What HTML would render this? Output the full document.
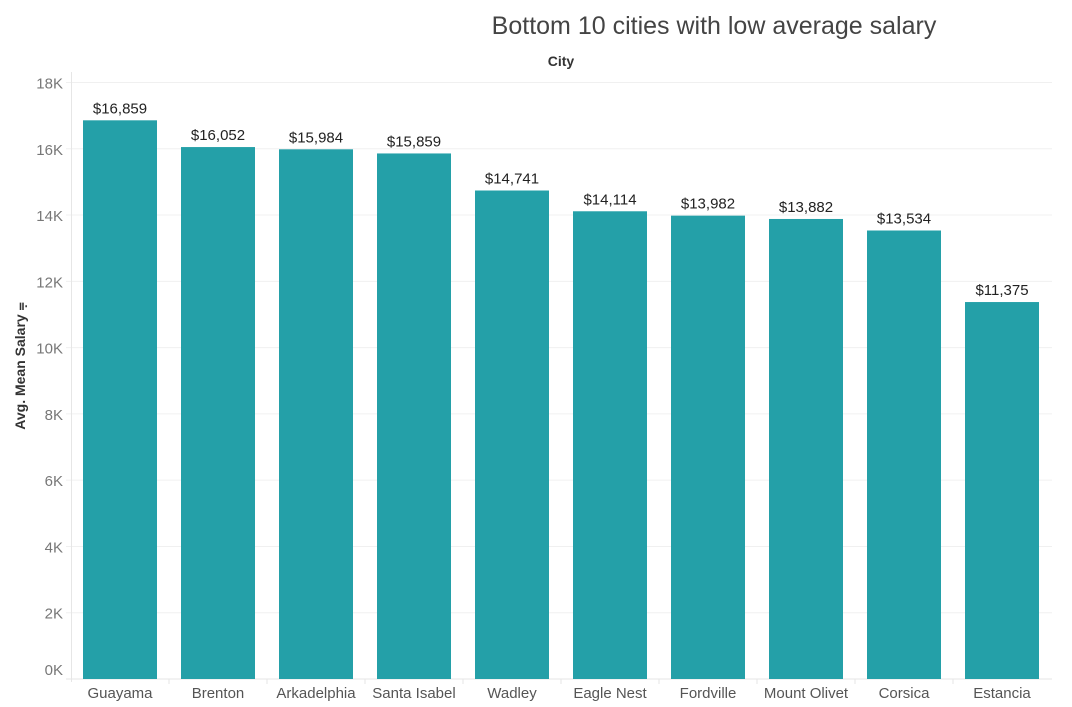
<!DOCTYPE html>
<html><head><meta charset="utf-8"><style>
body{margin:0;background:#fff;width:1072px;height:702px;overflow:hidden;font-family:"Liberation Sans",sans-serif}
</style></head><body>
<svg id="chart" width="1072" height="702" xmlns="http://www.w3.org/2000/svg">
<text x="714" y="34" text-anchor="middle" font-size="25" fill="#444" font-family="Liberation Sans, sans-serif">Bottom 10 cities with low average salary</text>
<text x="561" y="66" text-anchor="middle" font-size="14" font-weight="bold" fill="#333">City</text>
<text transform="translate(25,366) rotate(-90)" text-anchor="middle" font-size="14" font-weight="bold" fill="#333">Avg. Mean Salary ⩦</text>
<g id="grid"></g><g id="bars"></g>
</svg>
<script>
const cities=["Guayama","Brenton","Arkadelphia","Santa Isabel","Wadley","Eagle Nest","Fordville","Mount Olivet","Corsica","Estancia"];
const salaries=[16859,16052,15984,15859,14741,14114,13982,13882,13534,11375];
const ticks=[0,2000,4000,6000,8000,10000,12000,14000,16000,18000];
const tickLabels=["0K","2K","4K","6K","8K","10K","12K","14K","16K","18K"];
const NS="http://www.w3.org/2000/svg";
const x0=72,band=98,bw=74,yBase=679,yTop=82.5,vMax=18000;
const y=v=>yBase-(v/vMax)*(yBase-yTop);
const xb=i=>x0+band*i+(band-bw)/2-1;
const grid=document.getElementById('grid'),bars=document.getElementById('bars');
function mk(tag,attrs,parent){const e=document.createElementNS(NS,tag);for(const k in attrs)e.setAttribute(k,attrs[k]);parent.appendChild(e);return e;}
ticks.forEach((t,i)=>{
  const l=mk('line',{x1:66,x2:1052,y1:y(t),y2:y(t),stroke:t===0?'#e6e6e6':'#f0f0f0','stroke-width':1},grid);
  
  
  const tx=mk('text',{x:63,y:y(t)+6-(t===0?10:0),'text-anchor':'end','font-size':15,fill:'#777'},grid);
  tx.textContent=tickLabels[i];
  
  
});
const ax=mk('line',{x1:71.5,x2:71.5,y1:72,y2:682,stroke:'#e6e6e6'},grid);


cities.forEach((c,i)=>{
  const r=mk('rect',{x:xb(i),y:y(salaries[i]),width:bw,height:yBase-y(salaries[i]),fill:'#24a0a8'},bars);
  
  
  const cx=xb(i)+bw/2;
  const v=mk('text',{x:cx,y:y(salaries[i])-7,'text-anchor':'middle','font-size':15,fill:'#222'},bars);
  v.textContent='$'+salaries[i].toLocaleString('en-US');
  
  
  const lb=mk('text',{x:cx,y:698,'text-anchor':'middle','font-size':15,fill:'#555'},bars);
  lb.textContent=c;
  
  
  if(i>0){const tk=mk('line',{x1:x0+band*i-1,x2:x0+band*i-1,y1:679,y2:684,stroke:'#e6e6e6'},grid);
  
  }
});
</script>
</body></html>
